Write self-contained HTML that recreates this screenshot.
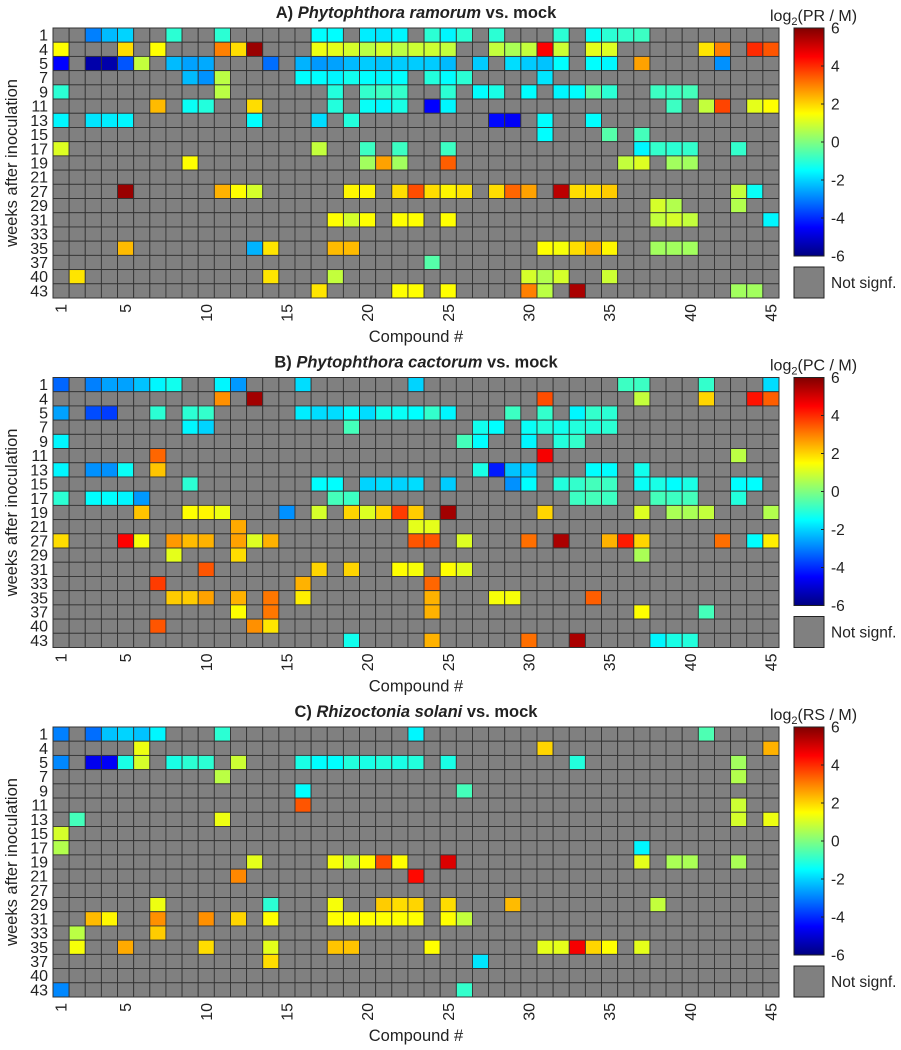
<!DOCTYPE html>
<html><head><meta charset="utf-8"><style>
html,body{margin:0;padding:0;background:#fff;}
svg{display:block;font-family:"Liberation Sans",Arial,sans-serif;}
</style></head><body>
<svg id="fig" width="901" height="1050" viewBox="0 0 901 1050"></svg>
<script>
const weeks=[1,4,5,7,9,11,13,15,17,19,21,27,29,31,33,35,37,40,43];
const compoundTicks=[1,5,10,15,20,25,30,35,40,45];
const cbTicks=[6,4,2,0,-2,-4,-6];
const nCompounds=45;
const panelTitles=[["A) ","Phytophthora ramorum"," vs. mock"],["B) ","Phytophthora cactorum"," vs. mock"],["C) ","Rhizoctonia solani"," vs. mock"]];
const cbLabels=["PR / M","PC / M","RS / M"];
const dataA=[
[[3,-3],[4,-2.3],[5,-2],[8,-1],[11,-1],[17,-1.5],[18,-1.5],[20,-1.7],[21,-1.8],[22,-1.6],[24,-1],[25,-1.6],[26,-1],[28,-1],[32,-1],[34,-1.4],[35,-1],[36,-0.9],[37,-0.8]],
[[1,1.5],[5,1.9],[7,1.5],[11,3],[12,1.9],[13,5.7],[17,1.3],[18,1.2],[19,1.0],[20,0.7],[21,1.0],[22,0.7],[23,0.9],[24,0.9],[25,0.8],[28,0.8],[29,0.5],[30,0.8],[31,4.5],[32,0.9],[34,1.2],[35,1.1],[41,1.8],[42,3],[44,4],[45,3.5]],
[[1,-4.5],[3,-5.5],[4,-5.5],[5,-3.5],[6,0.8],[8,-2.3],[9,-2.6],[10,-2.5],[14,-3.2],[16,-2.4],[17,-2.7],[18,-2.6],[19,-2.3],[20,-2.1],[21,-2.2],[22,-2.1],[23,-2.1],[24,-2.1],[25,-2.3],[27,-2.1],[29,-1.9],[30,-2.1],[31,-2.2],[32,-1.5],[34,-1.5],[35,-1.6],[37,2.6],[42,-2.8]],
[[9,-2.3],[10,-2.8],[11,0.7],[16,-1.5],[17,-1.5],[18,-1.6],[19,-1.3],[20,-1.5],[21,-1.6],[22,-1.5],[24,-1.1],[25,-1.5],[26,-1],[31,-1.8]],
[[1,-1],[11,0.7],[18,-1.1],[20,-0.9],[21,-0.8],[22,-0.9],[25,-1],[27,-1.5],[28,-1.2],[30,-1.5],[32,-1.6],[33,-1.5],[34,-0.4],[35,-1],[38,-0.8],[39,-0.8],[40,-0.7]],
[[7,2.3],[9,-1.4],[10,-1.1],[13,1.9],[18,-1.1],[20,-1.4],[21,-1.6],[22,-1.2],[24,-4.5],[25,-1.6],[39,-0.8],[41,0.8],[42,3.7],[44,1.2],[45,1.5]],
[[1,-1.6],[3,-1.8],[4,-1.7],[5,-1.6],[13,-1.5],[17,-1.9],[19,-1.1],[28,-4.4],[29,-4.6],[31,-1.5],[34,-1.5]],
[[31,-1.5],[35,-0.5],[37,-0.7]],
[[1,1.1],[17,0.8],[20,-0.8],[22,-0.8],[25,-0.8],[37,-1.6],[38,-0.9],[39,-1],[40,-0.9],[43,-0.9]],
[[9,1.5],[20,0.4],[21,2.6],[22,0.4],[25,3.4],[36,0.8],[37,1.1],[39,0.4],[40,0.4]],
[],
[[5,5.7],[11,2.4],[12,1.5],[13,1.0],[19,1.6],[20,1.6],[22,1.9],[23,3.6],[24,1.9],[25,1.6],[26,1.8],[28,1.9],[29,3.3],[30,2.6],[32,5.3],[33,1.9],[34,1.9],[35,2.1],[43,0.8],[44,-1.4]],
[[38,1.0],[39,0.6],[43,0.6]],
[[18,1.5],[19,1.0],[20,1.5],[22,1.5],[23,1.5],[25,1.5],[38,0.8],[39,1.0],[40,0.8],[45,-1.6]],
[],
[[5,2.3],[13,-2.4],[14,1.8],[18,2.3],[19,2.3],[31,1.5],[32,1.4],[33,1.9],[34,2.4],[35,1.6],[38,0.4],[39,0.4],[40,0.4]],
[[24,-0.5]],
[[2,1.8],[14,1.8],[18,0.8],[30,1.0],[31,0.6],[32,1.0],[35,0.9]],
[[17,1.8],[22,1.5],[23,1.5],[25,1.5],[30,3.0],[31,0.7],[33,5.5],[43,0.4],[44,0.4]]
];
const dataB=[
[[1,-3.3],[3,-3],[4,-2.6],[5,-2.6],[6,-2.2],[7,-1.6],[8,-1.3],[11,-1.6],[12,-2.7],[16,-1.9],[23,-2],[36,-0.8],[37,-0.8],[41,-0.9],[45,-1.9]],
[[11,2.8],[13,5.6],[31,3.6],[37,0.8],[41,2.0],[44,4.3],[45,3.4]],
[[1,-2.6],[3,-3.6],[4,-3.8],[7,-1],[9,-1],[10,-0.9],[16,-1.7],[17,-1.9],[18,-1.9],[19,-1.5],[20,-1.9],[21,-1.3],[22,-1.4],[23,-1.5],[24,-0.9],[25,-1.6],[29,-0.8],[31,-0.9],[33,-1.6],[34,-0.9],[35,-1]],
[[9,-1.6],[10,-2],[19,-0.7],[27,-1.3],[28,-1.5],[30,-1.4],[31,-1.1],[32,-1.3],[33,-1.1],[34,-1.1],[35,-1]],
[[1,-1.6],[26,-0.7],[27,-1.5],[30,-1.6],[32,-1.1],[33,-0.9]],
[[7,3.3],[31,4.6],[43,0.7]],
[[1,-1.6],[3,-2.8],[4,-2.8],[5,-1.4],[7,2.2],[27,-1.2],[28,-4.2],[29,-2.2],[30,-2.0],[34,-1.5],[35,-1.5],[37,-1.3]],
[[9,-1],[17,-1.5],[18,-1.5],[20,-2],[21,-1.9],[22,-2],[23,-1.9],[25,-2.1],[29,-2.8],[30,-1.5],[32,-1.1],[33,-0.9],[34,-0.7],[35,-0.8],[37,-1.4],[38,-1.2],[39,-1.5],[40,-1.2],[43,-1.5],[44,-1.5]],
[[1,-1],[3,-1.5],[4,-1.5],[5,-1.6],[6,-2.7],[18,-0.7],[19,-0.8],[33,-0.8],[34,-0.7],[35,-0.8],[38,-0.7],[39,-0.8],[40,-0.7],[43,-1.1]],
[[6,2.2],[9,1.5],[10,1.6],[11,1.3],[15,-2.8],[17,1.0],[19,2.0],[20,1.1],[21,2.0],[22,3.8],[23,2.1],[25,5.6],[31,2.0],[37,1.1],[39,0.5],[40,0.5],[41,0.8],[45,0.6]],
[[12,2.5],[23,1.2],[24,1.2]],
[[1,1.9],[5,4.5],[6,1.4],[8,2.7],[9,2.3],[10,2.4],[12,2.6],[13,1.1],[14,2.4],[23,3.5],[24,3.5],[26,1.1],[30,3.2],[32,5.5],[35,2.4],[36,4.2],[37,2.0],[42,3.2],[44,-1.5],[45,1.7]],
[[8,1.2],[12,1.9],[37,0.5]],
[[10,3.5],[17,2.0],[19,2.0],[22,1.5],[23,1.4],[25,1.5],[26,1.2]],
[[7,3.8],[16,2.4],[24,3.3]],
[[8,2.1],[9,2.1],[10,2.6],[12,2.4],[14,3.1],[16,1.7],[24,2.4],[28,1.4],[29,1.4],[34,3.4]],
[[12,1.5],[14,3.1],[24,2.4],[37,1.5],[41,-0.7]],
[[7,3.5],[13,2.8],[14,1.8]],
[[19,-1.3],[24,2.4],[30,3.2],[33,5.5],[38,-1.6],[39,-1.2],[40,-1.1]]
];
const dataC=[
[[1,-3],[3,-3.2],[4,-2.2],[5,-2],[6,-2.2],[7,-1.6],[11,-1],[23,-1.6],[41,-0.6]],
[[6,1.3],[31,2.0],[45,2.4]],
[[1,-2.9],[3,-4.7],[4,-4.6],[5,-1.2],[6,1.0],[8,-1.2],[9,-1],[10,-1],[12,0.9],[16,-1.2],[17,-1.5],[18,-1.5],[19,-1.1],[20,-1.2],[21,-1.1],[22,-1.2],[23,-1.1],[25,-1.2],[33,-1.1],[43,0.4]],
[[11,0.7],[43,0.6]],
[[16,-1.5],[26,-0.7]],
[[16,3.5],[43,0.9]],
[[2,-0.7],[11,1.3],[43,1.0],[45,1.3]],
[[1,1.0]],
[[1,0.6],[37,-1.6]],
[[13,1.2],[18,1.4],[19,0.8],[20,1.5],[21,3.6],[22,1.5],[25,4.9],[37,1.2],[39,0.5],[40,0.5],[43,0.5]],
[[12,2.9],[23,4.4]],
[],
[[7,1.3],[14,-1],[18,1.4],[21,2.1],[22,1.9],[23,2.0],[25,1.9],[29,2.3],[38,0.8]],
[[3,2.3],[4,1.6],[7,2.8],[10,2.8],[12,2.0],[14,1.5],[18,1.5],[19,1.5],[20,1.5],[21,1.5],[22,1.5],[23,1.5],[25,1.5],[26,0.8]],
[[2,0.7],[7,2.1]],
[[2,1.4],[5,2.5],[10,1.9],[14,1.2],[18,2.2],[19,2.2],[24,1.5],[31,1.2],[32,1.2],[33,4.6],[34,2.0],[35,1.5],[37,1.2]],
[[14,1.9],[27,-1.8]],
[],
[[1,-2.9],[26,-0.9]]
];
const allData=[dataA,dataB,dataC];

const NS="http://www.w3.org/2000/svg";
const svg=document.getElementById('fig');
const X0=53,GW=726,PH=270,CBX=794,CBW=30;
const panelTops=[28,377.5,727];
const cw=GW/nCompounds, rh=PH/weeks.length;
function jet(v){
  let t=(v+6)/12; t=Math.max(0,Math.min(1,t));
  const c=x=>Math.round(255*Math.max(0,Math.min(1,x)));
  return `rgb(${c(1.5-Math.abs(4*t-3))},${c(1.5-Math.abs(4*t-2))},${c(1.5-Math.abs(4*t-1))})`;
}
function el(tag,attrs,parent){const e=document.createElementNS(NS,tag);for(const k in attrs)e.setAttribute(k,attrs[k]);(parent||svg).appendChild(e);return e;}
const defs=el('defs',{});
const lg=el('linearGradient',{id:'jetg',x1:0,y1:1,x2:0,y2:0},defs);
for(let i=0;i<=24;i++){el('stop',{offset:(i/24),'stop-color':jet(-6+i*0.5)},lg);}

panelTops.forEach((top,p)=>{
  const g=el('g',{});
  
  
  const xs=c=>X0+(c-1)*cw, ys=r=>top+r*rh;
  const t=el('text',{x:X0+GW/2,y:top-10,'text-anchor':'middle','font-size':'16.5','font-weight':'bold',fill:'#222'},g);
  
  
  const parts=panelTitles[p];
  el('tspan',{},t).textContent=parts[0];
  el('tspan',{'font-style':'italic'},t).textContent=parts[1];
  el('tspan',{},t).textContent=parts[2];
  const map={};
  allData[p].forEach((row,r)=>row.forEach(([c,v])=>{map[r+'_'+c]=v;}));
  for(let r=0;r<weeks.length;r++){
    for(let c=1;c<=nCompounds;c++){
      const v=map[r+'_'+c];
      const rect=el('rect',{x:xs(c),y:ys(r),width:cw,height:rh,fill:v===undefined?'#808080':jet(v),stroke:'#333',
        'stroke-width':0.9},g);
      
      
    }
  }
  el('rect',{x:X0,y:top,width:GW,height:PH,fill:'none',stroke:'#333','stroke-width':1},g);
  weeks.forEach((w,r)=>{
    const tx=el('text',{x:48,y:ys(r)+rh/2+5.5,'text-anchor':'end','font-size':'16',fill:'#222'},g);
    
    
    tx.textContent=w;
  });
  compoundTicks.forEach(c=>{
    const cx=xs(c)+cw/2+5.5, cy=top+PH+6;
    const tx=el('text',{x:cx,y:cy,'text-anchor':'end','font-size':'16',fill:'#222',transform:`rotate(-90 ${cx} ${cy})`},g);
    
    
    tx.textContent=c;
  });
  const xt=el('text',{x:X0+GW/2,y:top+PH+44,'text-anchor':'middle','font-size':'16.5',fill:'#222'},g);
  
  
  xt.textContent='Compound #';
  const yx=12, yy=top+PH/2;
  const yt=el('text',{x:yx+5,y:yy,'text-anchor':'middle','font-size':'16.5',fill:'#222',transform:`rotate(-90 ${yx+5} ${yy})`},g);
  
  
  yt.textContent='weeks after inoculation';
  const cbH=228;
  const cb=el('rect',{x:CBX,y:top,width:CBW,height:cbH,fill:'url(#jetg)',stroke:'#222','stroke-width':1},g);
  
  
  const cs=v=>top+(6-v)/12*cbH;
  cbTicks.forEach(v=>{
    el('line',{x1:CBX+CBW-3,x2:CBX+CBW,y1:cs(v),y2:cs(v),stroke:'#222'},g);
    const tx=el('text',{x:CBX+CBW+7,y:cs(v)+5.5,'font-size':'15.5',fill:'#222'},g);
    
    
    tx.textContent=v;
  });
  const ct=el('text',{x:770,y:top-7,'font-size':'16',fill:'#222'},g);
  
  
  el('tspan',{},ct).textContent='log';
  el('tspan',{'font-size':'11',dy:'4'},ct).textContent='2';
  el('tspan',{dy:'-4'},ct).textContent='('+cbLabels[p]+')';
  const ns=el('rect',{x:CBX,y:top+239,width:CBW,height:31,fill:'#808080',stroke:'#222','stroke-width':1},g);
  
  
  const nt=el('text',{x:CBX+CBW+7,y:top+260,'font-size':'15.5',fill:'#222'},g);
  
  
  nt.textContent='Not signf.';
});
</script>
</body></html>
